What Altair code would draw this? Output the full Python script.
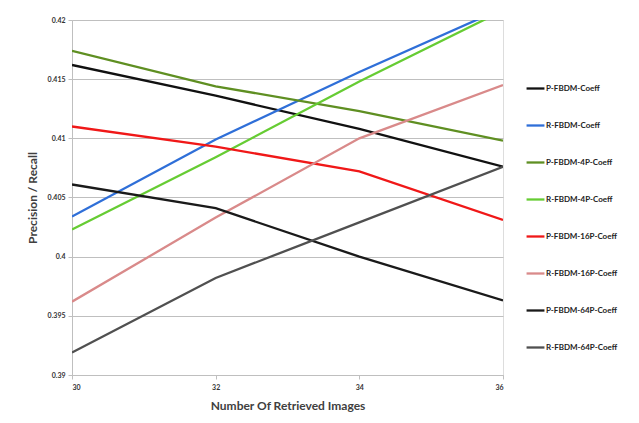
import altair as alt
import pandas as pd

x_values = [30, 32, 34, 36]
series_names = [
    "P-FBDM-Coeff", "R-FBDM-Coeff", "P-FBDM-4P-Coeff", "R-FBDM-4P-Coeff",
    "P-FBDM-16P-Coeff", "R-FBDM-16P-Coeff", "P-FBDM-64P-Coeff", "R-FBDM-64P-Coeff",
]
p_fbdm = [0.4162, 0.4136, 0.4108, 0.4076]
r_fbdm = [0.4034, 0.4099, 0.4156, 0.4210]
p_fbdm_4p = [0.4174, 0.4144, 0.4123, 0.4098]
r_fbdm_4p = [0.4023, 0.4084, 0.4148, 0.4208]
p_fbdm_16p = [0.4110, 0.4093, 0.4072, 0.4031]
r_fbdm_16p = [0.3962, 0.4033, 0.4100, 0.4145]
p_fbdm_64p = [0.4061, 0.4041, 0.4000, 0.3963]
r_fbdm_64p = [0.3919, 0.3982, 0.4029, 0.4076]
y_ticks = [0.39, 0.395, 0.4, 0.405, 0.41, 0.415, 0.42]
colors = ["#111111", "#2f6fd8", "#5f8f22", "#66cc33", "#f01818", "#d98a8a", "#1a1a1a", "#505050"]

all_series = [p_fbdm, r_fbdm, p_fbdm_4p, r_fbdm_4p, p_fbdm_16p, r_fbdm_16p, p_fbdm_64p, r_fbdm_64p]
rows = []
for name, vals in zip(series_names, all_series):
    for xv, yv in zip(x_values, vals):
        rows.append({"x": xv, "y": yv, "series": name})
df = pd.DataFrame(rows)

FONT = "Lato"

chart = alt.Chart(df).mark_line(strokeWidth=2.3, clip=True).encode(
    x=alt.X("x:Q", scale=alt.Scale(domain=[30, 36], nice=False, zero=False),
            axis=alt.Axis(values=x_values, title="Number Of Retrieved Images", grid=False,
                          labelFontSize=7, labelFontWeight="bold", labelColor="#333333",
                          titleFontSize=12, titleFontWeight="bold", titleColor="#404040",
                          titlePadding=10, domainColor="#bfbfbf", tickColor="#bfbfbf",
                          tickSize=4, labelPadding=4, labelFont=FONT, titleFont=FONT)),
    y=alt.Y("y:Q", scale=alt.Scale(domain=[0.39, 0.42], nice=False, zero=False),
            axis=alt.Axis(values=y_ticks, format=".3~f", title="Precision / Recall",
                          grid=True, gridColor="#bfbfbf", gridWidth=1,
                          labelFontSize=7, labelFontWeight="bold", labelColor="#333333",
                          titleFontSize=12, titleFontWeight="bold", titleColor="#404040",
                          titlePadding=8, domainColor="#bfbfbf", tickColor="#bfbfbf",
                          tickSize=4, labelPadding=3, labelFont=FONT, titleFont=FONT)),
    color=alt.Color("series:N", sort=series_names,
                    scale=alt.Scale(domain=series_names, range=colors),
                    legend=alt.Legend(title=None, orient="none", legendX=453, legendY=58,
                                      symbolType="stroke", symbolSize=320, symbolStrokeWidth=2.3,
                                      labelFontSize=8, labelFontWeight="bold", labelColor="#222222",
                                      labelFont=FONT, rowPadding=21, labelOffset=0)),
).properties(
    width=431, height=355,
    autosize=alt.AutoSizeParams(type="none"),
    padding={"left": 72, "top": 20, "right": 136, "bottom": 48},
).configure_view(stroke=None).configure(background="white")

chart.save("out.html", embed_options={"renderer": "svg", "actions": False})
